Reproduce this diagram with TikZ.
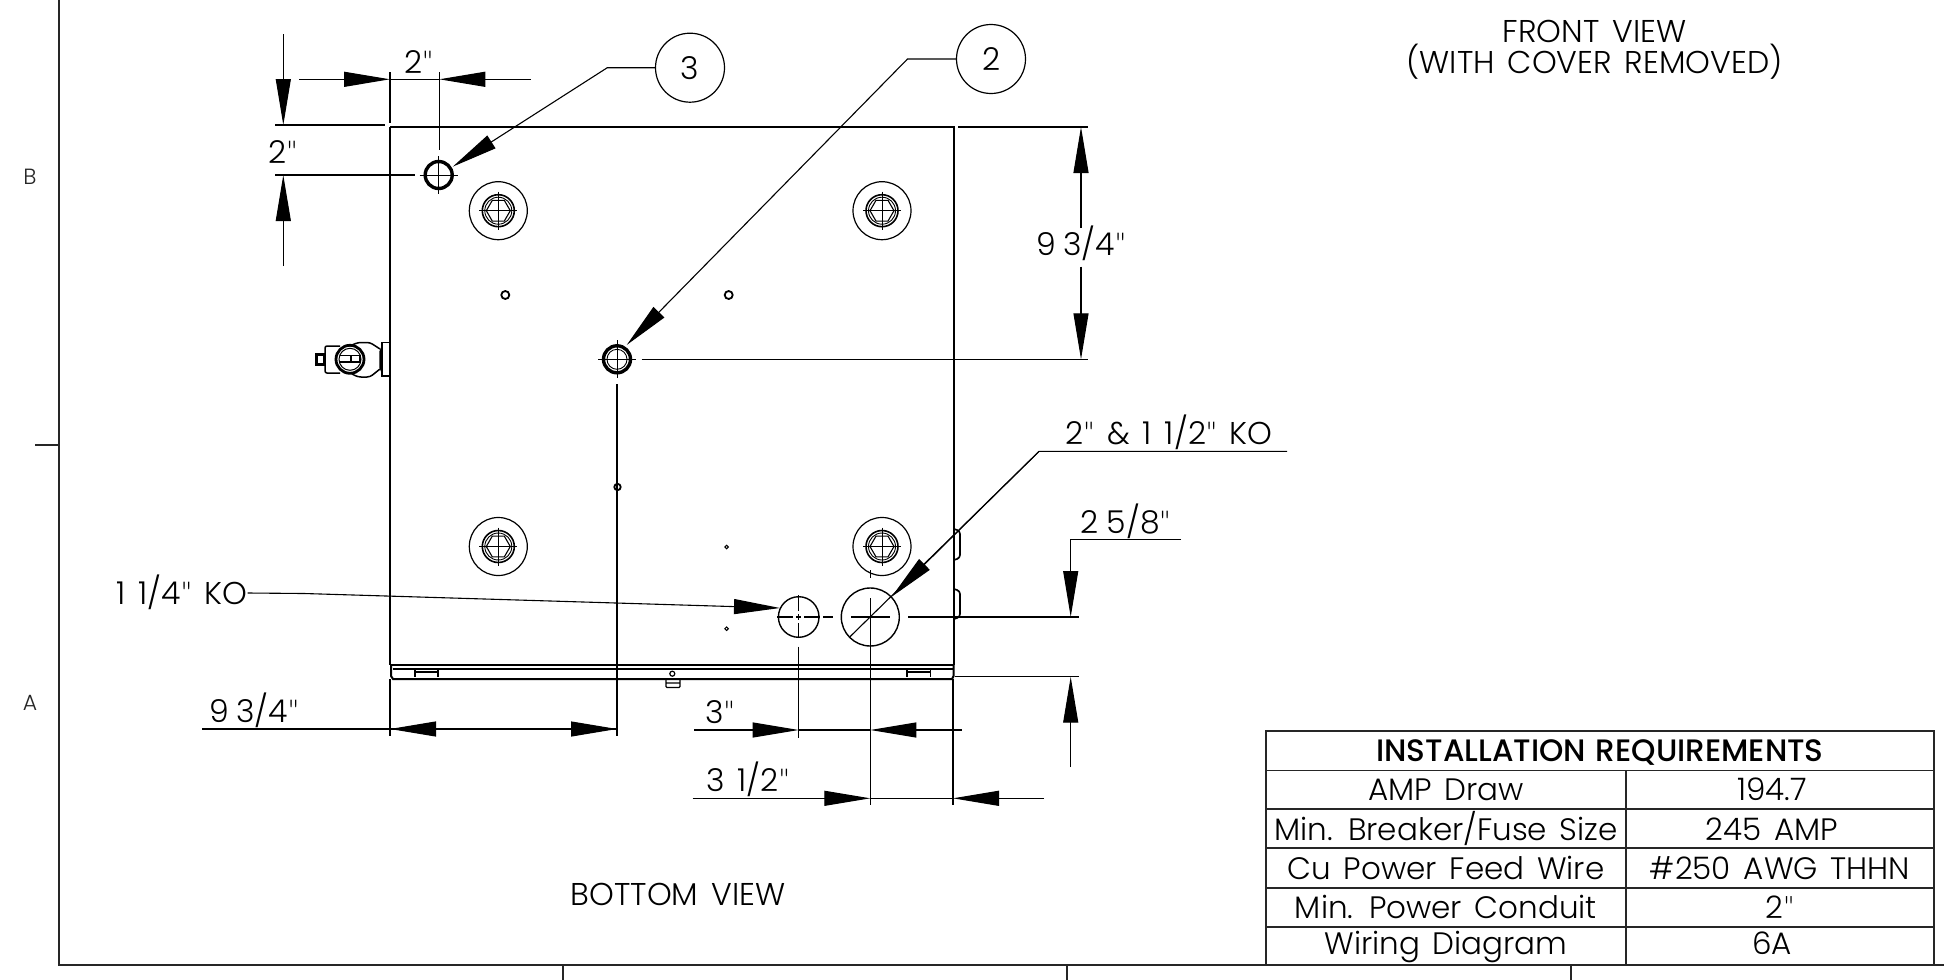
\documentclass[tikz,border=0pt]{standalone}
\usepackage{fontspec}
\setmainfont{Poppins Light}[WordSpace=1.5,Kerning=Off]
\newfontfamily\headfont{Poppins Medium}[WordSpace=1.2]
\newfontfamily\quotefont{Lato Light}
\newfontfamily\narrowsp{Poppins Light}[WordSpace=0.9,Kerning=Off]
\usetikzlibrary{arrows.meta}
\newcommand{\dfont}{\fontsize{31.5}{36}\selectfont}
\newcommand{\q}{{\quotefont "}}
\tikzset{
  thin line/.style={line width=1.1pt,black},
  heavy/.style={line width=2pt,black},
  frame line/.style={line width=1.3pt,black!85},
  tipped/.style={thin line,-{Triangle[length=46pt,width=15pt]}},
  label text/.style={font=\dfont,inner sep=0pt,text=black,text height=23pt,text depth=0pt},
  balloon/.style={circle,draw,line width=1.2pt,minimum size=69pt,inner sep=0pt,font=\dfont,text=black},
  cell text/.style={font=\fontsize{31}{36}\selectfont,inner sep=0pt,text=black,text height=23pt,text depth=0pt},
  bolt/.pic={
    \draw[line width=1.2pt] (0,0) circle (29);
    \draw[line width=1.6pt] (0,0) circle (16);
    \draw[line width=0.9pt] (0,0) circle (13.5);
    \draw[line width=1.1pt] (0:12)--(60:12)--(120:12)--(180:12)--(240:12)--(300:12)--cycle;
    \draw[line width=1pt] (-19,0)--(19,0) (0,-19)--(0,19);
  },
  port/.pic={
    \draw[line width=3.4pt] (0,0) circle (13.5);
    \draw[line width=1pt] (-19,0)--(19,0) (0,-19)--(0,19);
  }
}
\begin{document}
\begin{tikzpicture}[x=1pt,y=-1pt]
\useasboundingbox (0,0) rectangle (1944,980);
\fill[white] (0,0) rectangle (1944,980);
% sheet frame
\draw[frame line] (59,0)--(59,965)--(1944,965);
\draw[frame line] (35,445)--(59,445);
\draw[frame line] (563,965)--(563,980) (1067,965)--(1067,980) (1571,965)--(1571,980);
\node[font=\fontsize{22}{26}\selectfont,inner sep=0pt,text=black!85] (zoneB) at (30,177) {B};
\node[font=\fontsize{22}{26}\selectfont,inner sep=0pt,text=black!85] (zoneA) at (30,703) {A};
% enclosure
\draw[heavy] (390,127)--(953.5,127)--(953.5,665);
\draw[heavy] (390,127)--(390,665);
\draw[line width=1.6pt] (390,665)--(953.5,665);
\draw[line width=1.1pt] (393,669)--(953,669);
\draw[heavy] (391,665)--(391,676)--(393,679)--(952,679)--(953.5,676)--(953.5,665);
% flange notches
\draw[line width=1.1pt] (415,669)--(415,677) (438,669)--(438,677) (415,672)--(438,672);
\draw[line width=1.1pt] (907,669)--(907,677) (930.5,669)--(930.5,677) (907,672)--(930.5,672);
\draw[line width=1.2pt] (672.3,673.7) circle (2.5);
\draw[line width=1.1pt,rounded corners=1pt] (666,679)--(666,687.5)--(680,687.5)--(680,679) (666,683)--(680,683);
% side tabs
\draw[line width=1.7pt,rounded corners=3pt] (954,529)--(960,531)--(960,558)--(954,560);
\draw[line width=1.7pt,rounded corners=3pt] (954,589)--(960,591)--(960,617)--(954,619);
% bolts
\pic at (498.3,210.7) {bolt};
\pic at (882,210.7) {bolt};
\pic at (498.3,546.5) {bolt};
\pic at (882,546.5) {bolt};
% small holes
\draw[line width=1.8pt] (505.3,295) circle (4) (728.7,295) circle (4) (617.5,487) circle (3.2);
\draw[line width=1pt] (726.6,547) circle (1.8) (726.6,628.7) circle (1.8);
% conduit ports
\pic at (438.7,175) {port};
\pic at (617,359.3) {port};
\draw[line width=0.9pt] (617,359.3) circle (10);
% side fitting
\draw[line width=1.5pt] (382,342.7) rectangle (390,376);
\draw[line width=1.5pt] (382,347)--(380,352)--(380,367)--(382,372);
\draw[line width=1.5pt,rounded corners=3pt] (380,349)--(370,342.5)--(358,342.5)--(352,345);
\draw[line width=1.5pt,rounded corners=3pt] (380,369)--(370,377)--(358,377)--(352,374);
\draw[line width=1.5pt,rounded corners=2pt] (340,346)--(325,346)--(325,373)--(340,373);
\draw[line width=3pt] (316.5,354.5) rectangle (324,364);
\draw[line width=2.8pt,fill=white] (350,359.3) circle (14);
\draw[line width=1pt] (350,359.3) circle (11);
\draw[line width=1.2pt] (340,355.7)--(351,355.7) (340,362)--(351,362) (351,355.7) rectangle (360,362);
% knockouts
\draw[line width=1.4pt] (798.7,617) circle (20.3);
\draw[line width=1.4pt] (870.3,617) circle (29);
% centre marks
\draw[thin line] (777,617)--(793,617) (796,617)--(801,617) (804,617)--(820,617) (823,617)--(833,617);
\draw[thin line] (851,617)--(890,617);
\draw[thin line] (908,617)--(1079,617);
\draw[thin line] (798.7,595)--(798.7,611) (798.7,614)--(798.7,620) (798.7,623)--(798.7,638);
\draw[thin line] (798.7,646.7)--(798.7,738);
\draw[thin line] (870.3,570)--(870.3,578);
\draw[thin line] (870.3,598)--(870.3,805);
% extension lines
\draw[thin line] (275,125)--(385,125);
\draw[thin line] (275,175)--(415,175);
\draw[thin line] (390,72)--(390,122.7);
\draw[thin line] (439.3,72)--(439.3,150);
\draw[thin line] (958,127)--(1088,127);
\draw[thin line] (641.7,359.3)--(1088,359.3);
\draw[thin line] (617,384)--(617,736);
\draw[thin line] (390,679)--(390,736);
\draw[thin line] (953,679)--(953,805);
\draw[thin line] (955,676.7)--(1079,676.7);
% dimension arrows
\coordinate (d1a) at (283.3,125); \coordinate (d1b) at (283.3,175);
\draw[tipped] (283.3,34)--(d1a);
\draw[tipped] (283.3,266)--(d1b);
\coordinate (d2a) at (390,79.3); \coordinate (d2b) at (439.3,79.3);
\draw[thin line] (d2a)--(d2b);
\draw[tipped] (299,79.3)--(d2a);
\draw[tipped] (530.7,79.3)--(d2b);
\coordinate (d3a) at (1081,127); \coordinate (d3b) at (1081,359.3);
\draw[tipped] (1081,228)--(d3a);
\draw[tipped] (1081,266.6)--(d3b);
\coordinate (d4a) at (1070.7,617); \coordinate (d4b) at (1070.7,676.7);
\draw[tipped] (1181,539.7)--(1070.7,539.7)--(d4a);
\draw[tipped] (1070.7,767)--(d4b);
\coordinate (d5a) at (798.7,730); \coordinate (d5b) at (870.3,730);
\draw[thin line] (d5a)--(d5b);
\draw[tipped] (694,730)--(d5a);
\draw[tipped] (961.7,730)--(d5b);
\coordinate (d6a) at (870.3,798.3); \coordinate (d6b) at (953,798.3);
\draw[thin line] (d6a)--(d6b);
\draw[tipped] (692.6,798.3)--(d6a);
\draw[tipped] (1044,798.3)--(d6b);
\coordinate (d7a) at (390,729); \coordinate (d7b) at (617,729);
\draw[tipped] (202,729)--(d7b);
\draw[tipped] (617,729)--(d7a);
% balloons and leaders
\node[balloon] (b3) at (690,67.7) {3};
\node[balloon] (b2) at (991,59) {2};
\coordinate (p3) at (452.7,166.7);
\coordinate (p2) at (626.7,345);
\coordinate (p1) at (891.7,596.7);
\draw[tipped] (b3.west)--(607.3,67.7)--(p3);
\draw[tipped] (b2.west)--(907.5,59)--(p2);
\draw[thin line] (1287,451.4)--(1039,451.4)--(850,636.7);
\draw[tipped] (1039,451.4)--(p1);
\node[label text] (koleft) at (182,593) {1 1/4\q{} KO};
\coordinate (p4) at (780,608);
\draw[tipped] (koleft.east)--(304,593.5)--(p4);
% dimension labels
\node[label text] (t1) at (283,152) {2\q};
\node[label text] (t2) at (418.7,62) {2\q};
\node[label text] (t3) at (1081,244) {\narrowsp 9 3/4\q};
\node[label text] (t4) at (1169,433) {2\q{} \& 1 1/2\q{} KO};
\node[label text] (t5) at (1125.7,521.7) {\narrowsp 2 5/8\q};
\node[label text] (t6) at (720,711.7) {3\q};
\node[label text] (t7) at (748,780) {3 1/2\q};
\node[label text] (t8) at (254,710.5) {\narrowsp 9 3/4\q};
\node[label text] (t9) at (678,894) {BOTTOM VIEW};
\node[label text] (t10) at (1594.6,31) {FRONT VIEW};
\node[label text] (t11) at (1594.6,62) {(WITH COVER REMOVED)};
% table
\draw[line width=1.3pt,black!85] (1266,731) rectangle (1934,965);
\draw[line width=1.3pt,black!85] (1266,770.7)--(1934,770.7) (1266,809)--(1934,809) (1266,848)--(1934,848) (1266,888)--(1934,888) (1266,927)--(1934,927);
\draw[line width=1.3pt,black!85] (1626,770.7)--(1626,965);
\node[cell text,font=\headfont\fontsize{31}{36}\selectfont] (h) at (1600,750) {INSTALLATION REQUIREMENTS};
\node[cell text] (c1) at (1446,789) {AMP Draw};
\node[cell text] (v1) at (1772,789) {194.7};
\node[cell text] (c2) at (1446,829) {Min. Breaker/Fuse Size};
\node[cell text] (v2) at (1772,829) {245 AMP};
\node[cell text] (c3) at (1446,868) {Cu Power Feed Wire};
\node[cell text] (v3) at (1780,868) {\#250 AWG THHN};
\node[cell text] (c4) at (1446,907) {Min. Power Conduit};
\node[cell text] (v4) at (1780,907) {2\q};
\node[cell text] (c5) at (1446,943) {Wiring Diagram};
\node[cell text] (v5) at (1772,943) {6A};
\end{tikzpicture}
\end{document}
